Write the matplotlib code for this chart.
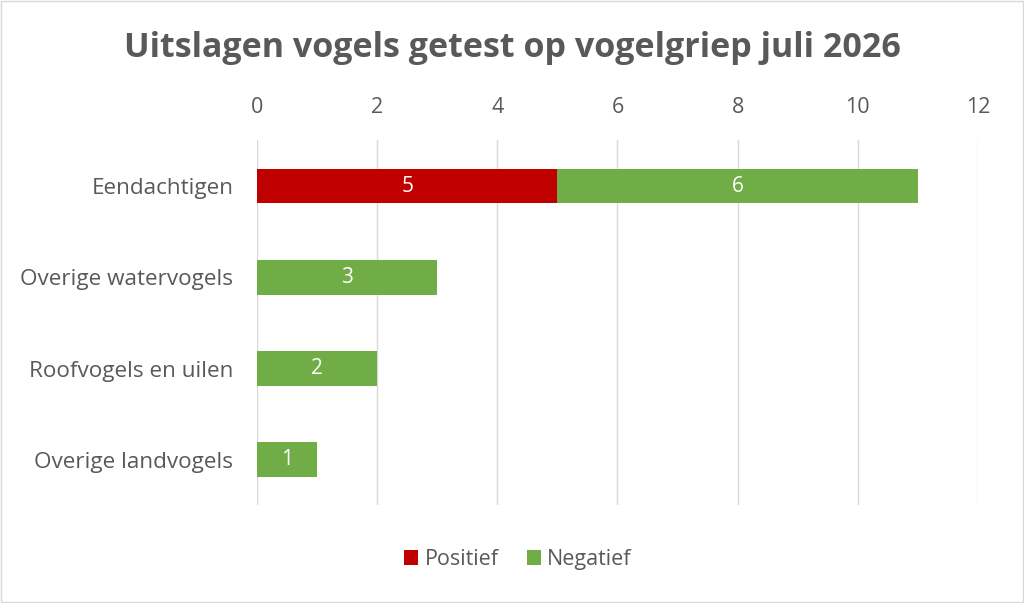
import matplotlib.pyplot as plt
import numpy as np

plt.rcParams['font.family'] = ['Open Sans', 'DejaVu Sans']

categories = ["Eendachtigen", "Overige watervogels", "Roofvogels en uilen", "Overige landvogels"]
positief = [5, 0, 0, 0]
negatief = [6, 3, 2, 1]
xticks = [0, 2, 4, 6, 8, 10, 12]

red = "#C00000"
green = "#70AD47"
grey = "#595959"

fig = plt.figure(figsize=(10.24, 6.03), dpi=100)
ax = fig.add_axes([0.251, 0.162, 0.704, 0.605])

y = np.arange(len(categories))
h = 0.38
b1 = ax.barh(y, positief, height=h, color=red, label="Positief", zorder=3)
b2 = ax.barh(y, negatief, height=h, left=positief, color=green, label="Negatief", zorder=3)

for bars, vals in ((b1, positief), (b2, negatief)):
    for rect, v in zip(bars, vals):
        if v > 0:
            ax.text(rect.get_x() + rect.get_width() / 2, rect.get_y() + rect.get_height() / 2,
                    str(v), ha="center", va="center", color="white", fontsize=15, zorder=4)

ax.set_xlim(0, 12)
ax.set_ylim(len(categories) - 0.5, -0.5)
ax.set_xticks(xticks)
ax.set_yticks(y)
ax.set_yticklabels(categories)
ax.xaxis.tick_top()
ax.tick_params(axis="both", length=0, labelsize=15.5, colors=grey)
ax.tick_params(axis="y", labelsize=16.2)
ax.tick_params(axis="x", pad=16)
ax.tick_params(axis="y", pad=17)
ax.grid(axis="x", color="#D9D9D9", linewidth=1, zorder=0)
for s in ax.spines.values():
    s.set_visible(False)

fig.text(0.5, 0.921, "Uitslagen vogels getest op vogelgriep juli 2026", ha="center", va="center",
         fontsize=24.5, fontweight="bold", color=grey)

leg = fig.legend(handles=[b1, b2], loc="center", bbox_to_anchor=(0.506, 0.072), ncol=2,
                 frameon=False, fontsize=15.5, handlelength=0.65, handleheight=0.65,
                 columnspacing=1.3, handletextpad=0.3)
for t in leg.get_texts():
    t.set_color(grey)

fig.patches.append(plt.Rectangle((0.001, 0.001), 0.998, 0.998, transform=fig.transFigure,
                                 fill=False, edgecolor="#D9D9D9", linewidth=1))

fig.savefig("out.png", dpi=100)
